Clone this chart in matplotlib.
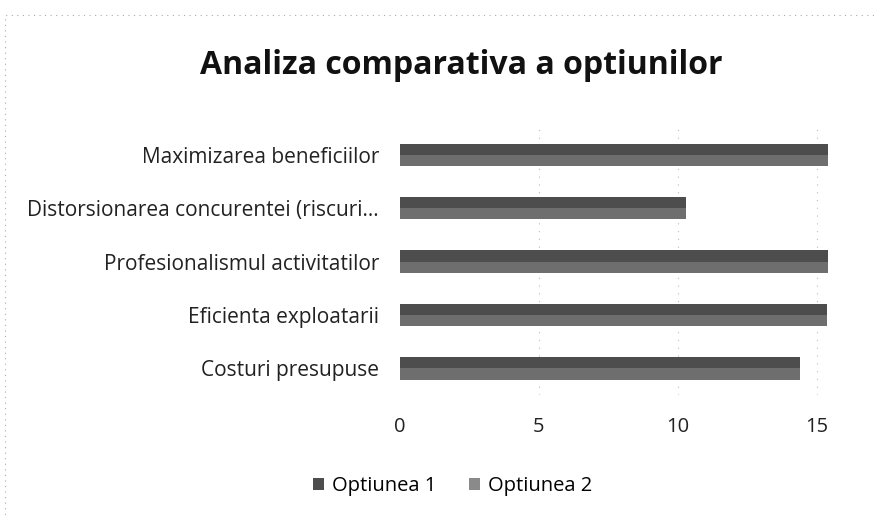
import matplotlib
matplotlib.use("Agg")
import matplotlib.pyplot as plt
from matplotlib.patches import Patch, Rectangle
import numpy as np

plt.rcParams['font.family'] = ['Open Sans', 'DejaVu Sans']

categories = ["Costuri presupuse", "Eficienta exploatarii", "Profesionalismul activitatilor",
              "Distorsionarea concurentei (riscuri...", "Maximizarea beneficiilor"]
optiunea1 = [14.4, 15.35, 15.4, 10.3, 15.4]
optiunea2 = [14.4, 15.35, 15.4, 10.3, 15.4]
series_names = ["Optiunea 1", "Optiunea 2"]
xticks = [0, 5, 10, 15]
title = "Analiza comparativa a optiunilor"

c1, c2 = '#4d4d4d', '#6e6e6e'

fig = plt.figure(figsize=(8.79, 5.15), dpi=100)
ax = fig.add_axes([0.455, 0.233, 0.495, 0.518])

y = np.arange(len(categories))
h = 0.21
ax.barh(y + h / 2, optiunea1, height=h, color=c1, edgecolor='none', zorder=2)
ax.barh(y - h / 2, optiunea2, height=h, color=c2, edgecolor='none', zorder=2)

ax.set_xlim(0, 15.65)
ax.set_ylim(-0.5, len(categories) - 0.5)
ax.set_xticks(xticks)
ax.set_xticklabels([str(t) for t in xticks], fontsize=14.5, color='#222222')
ax.set_yticks(y)
ax.set_yticklabels(categories, fontsize=15, color='#222222')
ax.tick_params(axis='both', length=0)
ax.tick_params(axis='x', pad=16)
ax.tick_params(axis='y', pad=15)
for s in ax.spines.values():
    s.set_visible(False)
for t in xticks[1:]:
    ax.axvline(t, color='#bbbbbb', lw=0.8, ls=(0, (1, 6)), zorder=1)

fig.text(0.525, 0.872, title, ha='center', va='center', fontsize=23, fontweight='bold', color='#111111')

handles = [Patch(facecolor=c1, edgecolor='none', label=series_names[0]),
           Patch(facecolor='#8a8a8a', edgecolor='none', label=series_names[1])]
fig.legend(handles=handles, loc='center', bbox_to_anchor=(0.515, 0.056), ncol=2, frameon=False,
           fontsize=14.5, handlelength=0.55, handleheight=0.55, columnspacing=1.6, handletextpad=0.4)

fig.patches.append(Rectangle((0.006, -0.05), 1.2, 1.02, transform=fig.transFigure, fill=False,
                             edgecolor='#aaaaaa', lw=0.8, ls=(0, (1, 4))))

fig.savefig("out.png", dpi=100)
